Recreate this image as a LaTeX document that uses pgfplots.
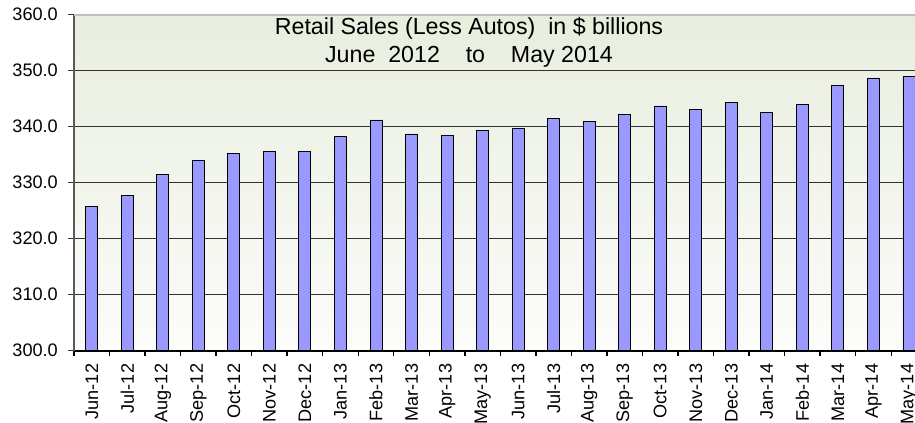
\documentclass[border=0pt]{standalone}
\usepackage{pgfplots}
\pgfplotsset{compat=1.18}
\usepackage{fontspec}
\setmainfont{Liberation Sans}
\definecolor{barfill}{RGB}{153,153,255}
\definecolor{bgtop}{RGB}{232,238,222}
\definecolor{bgbot}{RGB}{252,252,250}
\begin{document}
\begin{tikzpicture}
\useasboundingbox (0,0) rectangle (915bp,423bp);
\begin{axis}[
  at={(74bp,72.3bp)}, anchor=south west,
  scale only axis, width=841bp, height=336bp,
  xmin=-0.5, xmax=23.17, ymin=300, ymax=360,
  axis x line*=bottom, axis y line*=left,
  x axis line style={-, black, line width=1.8bp},
  y axis line style={-, black!65, line width=1.6bp},
  axis background/.style={shade, top color=bgtop, bottom color=bgbot},
  tick align=outside,
  major tick length=6bp, minor tick length=5bp,
  xtick={0,...,23},
  xticklabels={Jun-12,Jul-12,Aug-12,Sep-12,Oct-12,Nov-12,Dec-12,Jan-13,Feb-13,Mar-13,Apr-13,May-13,Jun-13,Jul-13,Aug-13,Sep-13,Oct-13,Nov-13,Dec-13,Jan-14,Feb-14,Mar-14,Apr-14,May-14},
  minor xtick={-0.5,0.5,...,22.5},
  major x tick style={draw=none},
  minor x tick style={black, line width=1.4bp},
  ytick={300,310,...,350},
  extra y ticks={360},
  extra y tick style={grid style={black!25, line width=1.6bp}},
  ymajorgrids,
  grid style={black!80, line width=0.8bp},
  y tick style={black!80, line width=1bp},
  yticklabel style={inner sep=0pt, xshift=-10bp},
  xticklabel style={rotate=90, anchor=east, inner sep=7bp},
  ticklabel style={font=\fontsize{18.2}{20}\selectfont},
  /pgf/number format/assume math mode=true,
  yticklabel={\pgfmathprintnumber[fixed, fixed zerofill, precision=1]{\tick}},
  ybar, bar width=12bp,
]
\addplot[fill=barfill, draw=black, line width=0.9bp] coordinates {
(0,325.8) (1,327.7) (2,331.5) (3,333.9) (4,335.2) (5,335.5) (6,335.5) (7,338.3)
(8,341.2) (9,338.7) (10,338.5) (11,339.4) (12,339.6) (13,341.4) (14,341.0) (15,342.1)
(16,343.7) (17,343.1) (18,344.4) (19,342.6) (20,344.0) (21,347.3) (22,348.7) (23,348.9)};
\node[anchor=base, font=\fontsize{23.3}{28}\selectfont, inner sep=0pt] at ([yshift=-19.6bp]rel axis cs:0.4697,1) {Retail Sales (Less Autos)\ \ in \$ billions};
\node[anchor=base, font=\fontsize{23.3}{28}\selectfont, inner sep=0pt] at ([yshift=-48bp]rel axis cs:0.4697,1) {June\ \ 2012\ \ \ \ to\ \ \ \ May 2014};
\end{axis}
\end{tikzpicture}
\end{document}
